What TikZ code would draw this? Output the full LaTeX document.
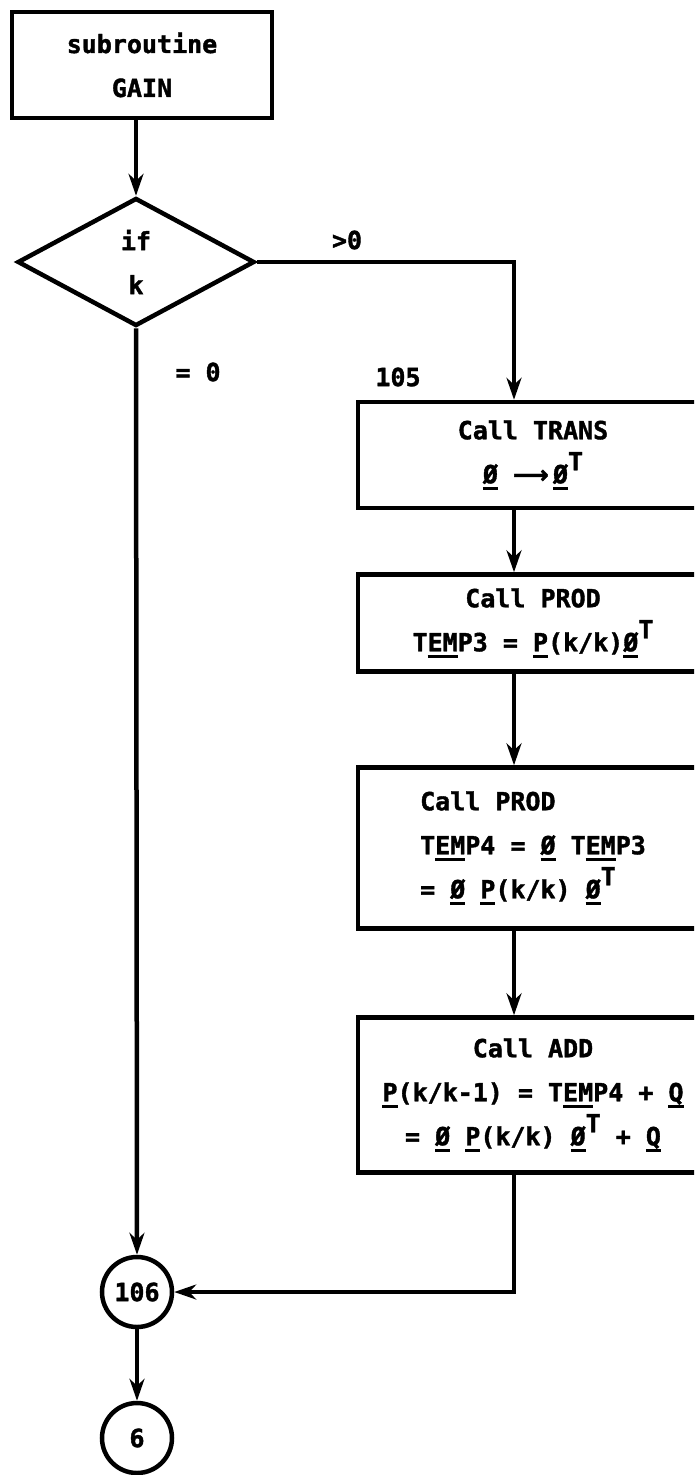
\documentclass[tikz,border=0pt]{standalone}
\usepackage{fontspec}
\newfontfamily\chartfont{DejaVu Sans Mono}[BoldFeatures={FakeBold=1.5}]
\newfontfamily\arrowfont{DejaVu Sans}[BoldFeatures={FakeBold=1.5}]
\usetikzlibrary{shapes.geometric, arrows.meta, positioning}

\newsavebox\ulinebox
\newcommand{\ubar}[1]{\sbox\ulinebox{#1}\rlap{\raisebox{-6.5pt}{\rule{\wd\ulinebox}{3pt}}}\usebox\ulinebox}
\newcommand{\supT}{\raisebox{13pt}{T}}

\begin{document}
\begin{tikzpicture}[x=1pt, y=-1pt, line width=4.5pt,
  every node/.style={font=\chartfont\bfseries\fontsize{25}{44}\selectfont},
  box/.style={draw, minimum width=350pt, inner sep=0pt, align=center},
  decision/.style={diamond, draw, minimum width=237pt, minimum height=128pt, inner sep=0pt, align=center},
  connector/.style={circle, draw, minimum size=70pt, inner sep=0pt},
  flow/.style={-{Stealth[length=22pt, width=15pt]}}]
\useasboundingbox (0,0) rectangle (694,1475);
\clip (0,0) rectangle (694,1475);

\node[box, minimum width=260pt, minimum height=106pt] (gain) at (142,65) {subroutine\\GAIN};
\node[decision] (ifk) at (136,262) {if\\k};
\node (gt) at (347,240) {>0};
\node (eq) at (198,372) {= 0};
\node (n105) at (398,377) {105};

\node[box, minimum height=106pt] (trans) at (533,455) {Call TRANS\\\ubar{Ø} {\arrowfont ⟶}\,\ubar{Ø}\supT};
\node[box, minimum height=97pt] (prod1) at (533,623) {Call PROD\\T\ubar{EM}P3 = \ubar{P}(k/k)\ubar{Ø}\supT};
\node[box, minimum height=161pt, align=left] (prod2) at (533,848) {Call PROD\\T\ubar{EM}P4 = \ubar{Ø} T\ubar{EM}P3\\= \ubar{Ø} \ubar{P}(k/k) \ubar{Ø}\supT};
\node[box, minimum height=155pt] (add) at (533,1095) {Call ADD\\\ubar{P}(k/k-1) = T\ubar{EM}P4 + \ubar{Q}\\= \ubar{Ø} \ubar{P}(k/k) \ubar{Ø}\supT{} + \ubar{Q}};

\node[connector] (c106) at (137,1292) {106};
\node[connector] (c6) at (137,1438) {6};

\coordinate (corner) at (514,262);

\path[flow] (ifk.north |- gain.south) edge (ifk.north)
            (ifk.south) edge (c106.north)
            (c106.south) edge (c6.north);
\draw[flow] (ifk.east) -- (corner) -- (corner |- trans.north);
\path[flow] (corner |- trans.south) edge (corner |- prod1.north)
            (corner |- prod1.south) edge (corner |- prod2.north)
            (corner |- prod2.south) edge (corner |- add.north);
\draw[flow] (corner |- add.south) |- (c106.east);
\end{tikzpicture}
\end{document}
